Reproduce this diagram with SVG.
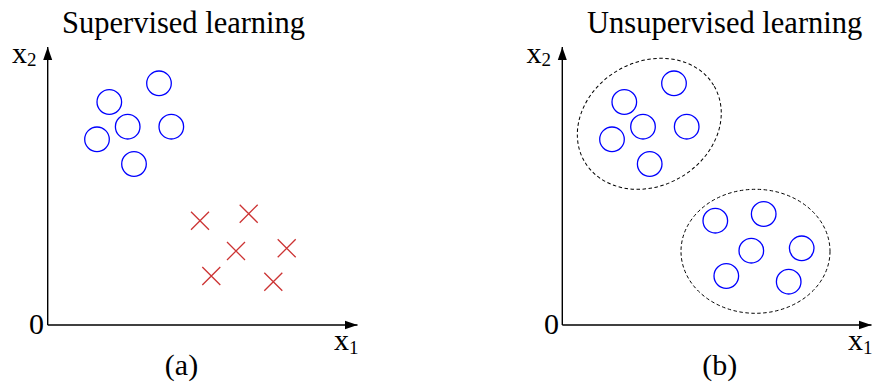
<svg xmlns="http://www.w3.org/2000/svg" width="872" height="385" viewBox="0 0 872 385">
<style>
text{font-family:"Liberation Serif","Times New Roman",serif;fill:#000;font-size:30px}
.t{font-size:30.5px}
.sub{font-size:19px}
.ax{stroke:#000;stroke-width:1.4;fill:none}
.o{fill:none;stroke:#0000ff;stroke-width:1.3}
.x{stroke:#cc3333;stroke-width:1.3;fill:none}
.cl{fill:none;stroke:#000;stroke-width:1;stroke-dasharray:3.5,2.5}
</style>
<defs>
<marker id="ah" markerWidth="14" markerHeight="10" refX="13" refY="5" orient="auto" markerUnits="userSpaceOnUse">
<path d="M0,0.5 L13,5 L0,9.5 Z" fill="#000"/>
</marker>
<g id="cr"><path class="x" d="M-9,-9 L9,9 M-9,9 L9,-9"/></g>
</defs>

<g id="panel-a">
<text class="t" x="62" y="33">Supervised learning</text>
<g id="axes-a">
<path class="ax" d="M47.7,325 L47.7,47" marker-end="url(#ah)"/>
<path class="ax" d="M47.7,325 L357.5,325" marker-end="url(#ah)"/>
</g>
<text x="12" y="63">x<tspan class="sub" dy="3">2</tspan></text>
<text x="29" y="334">0</text>
<text x="334" y="350">x<tspan class="sub" dy="4">1</tspan></text>
<text x="181.5" y="375" text-anchor="middle">(a)</text>
<g id="circles-a">
<circle class="o" cx="159" cy="83.3" r="12.3"/>
<circle class="o" cx="109.3" cy="102" r="12.3"/>
<circle class="o" cx="127.7" cy="126.7" r="12.3"/>
<circle class="o" cx="171.3" cy="126.7" r="12.3"/>
<circle class="o" cx="97" cy="139.3" r="12.3"/>
<circle class="o" cx="134" cy="164" r="12.3"/>
</g>
<g id="crosses-a">
<use href="#cr" x="200" y="220.7"/>
<use href="#cr" x="248.7" y="213.7"/>
<use href="#cr" x="236" y="251"/>
<use href="#cr" x="286.7" y="248.3"/>
<use href="#cr" x="211.3" y="276"/>
<use href="#cr" x="273.3" y="281.7"/>
</g>
</g>

<g id="panel-b">
<text class="t" x="587" y="33">Unsupervised learning</text>
<g id="axes-b">
<path class="ax" d="M562.3,325 L562.3,47" marker-end="url(#ah)"/>
<path class="ax" d="M562.3,325 L871.5,325" marker-end="url(#ah)"/>
</g>
<text x="526.5" y="63">x<tspan class="sub" dy="3">2</tspan></text>
<text x="544" y="334">0</text>
<text x="848" y="350">x<tspan class="sub" dy="4">1</tspan></text>
<text x="719.7" y="375" text-anchor="middle">(b)</text>
<g id="cluster-1">
<ellipse class="cl" cx="649.3" cy="123.8" rx="75" ry="62" transform="rotate(-30 649.3 123.8)"/>
<circle class="o" cx="674" cy="83.3" r="12.3"/>
<circle class="o" cx="624.3" cy="102" r="12.3"/>
<circle class="o" cx="643" cy="126.7" r="12.3"/>
<circle class="o" cx="686.7" cy="126.7" r="12.3"/>
<circle class="o" cx="612" cy="139.3" r="12.3"/>
<circle class="o" cx="649.7" cy="164" r="12.3"/>
</g>
<g id="cluster-2">
<ellipse class="cl" cx="755.5" cy="251.3" rx="74.5" ry="62"/>
<circle class="o" cx="715.3" cy="220.7" r="12.3"/>
<circle class="o" cx="763.7" cy="214" r="12.3"/>
<circle class="o" cx="751.3" cy="250.7" r="12.3"/>
<circle class="o" cx="801.7" cy="248.3" r="12.3"/>
<circle class="o" cx="726.3" cy="276" r="12.3"/>
<circle class="o" cx="788.7" cy="281.7" r="12.3"/>
</g>
</g>
</svg>
